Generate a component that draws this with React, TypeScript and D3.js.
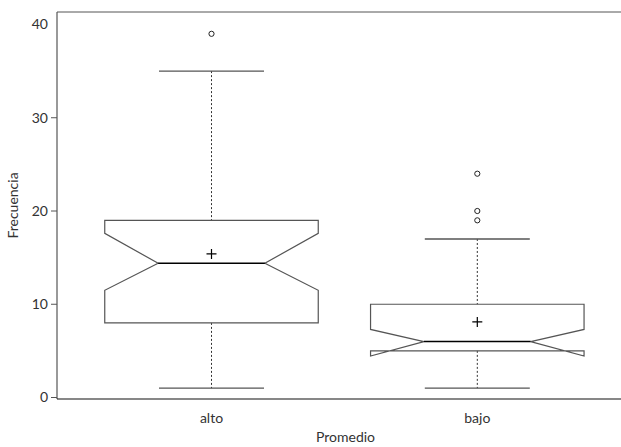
import React from "react";
import * as d3 from "d3";

const categories = ["alto", "bajo"];
const q1 = [8, 5];
const median = [14.4, 6];
const q3 = [19, 10];
const notchLo = [11.5, 4.45];
const notchHi = [17.6, 7.3];
const whiskerLo = [1, 1];
const whiskerHi = [35, 17];
const means = [15.4, 8.1];
const outliers = [[39], [24, 20, 19]];
const yTicks = [0, 10, 20, 30, 40];

const W = 621, H = 447;
const left = 57, top = 12, bottom = 399;
const FONT = "Lato, 'Open Sans', sans-serif";

export default function App() {
  const y = d3.scaleLinear().domain([-0.16, 41.34]).range([bottom, top]);
  const x = d3.scalePoint<string>().domain(categories).range([211.5, 477.3]);
  const boxW = 213.5;
  const capW = 105;
  const lineGray = "#555";

  return (
    <svg width={W} height={H} style={{ position: "absolute", left: 0, top: 0 }}>
      <rect width={W} height={H} fill="#fff" />
      <line x1={left} x2={W} y1={top} y2={top} stroke={lineGray} strokeWidth={1} />
      <line x1={left} x2={left} y1={top} y2={bottom} stroke={lineGray} strokeWidth={1.2} />
      <line x1={left} x2={W} y1={bottom} y2={bottom} stroke="#111" strokeWidth={1.2} />
      {yTicks.map((t) => (
        <g key={t}>
          {t !== 40 && (
            <line x1={51} x2={left} y1={y(t)} y2={y(t)} stroke={lineGray} />
          )}
          <text x={48} y={y(t)} dy="0.35em" textAnchor="end" fontFamily={FONT} fontSize={14} fill="#333">
            {t}
          </text>
        </g>
      ))}
      <text transform={`translate(18,${(top + bottom) / 2}) rotate(-90)`} textAnchor="middle" fontFamily={FONT} fontSize={14} fill="#333">
        Frecuencia
      </text>
      {categories.map((c, i) => {
        const cx = x(c)!;
        const L = cx - boxW / 2, R = cx + boxW / 2;
        const inset = boxW / 4;
        const pts: [number, number][] = [
          [L, y(q3[i])], [R, y(q3[i])], [R, y(notchHi[i])], [R - inset, y(median[i])],
          [R, y(notchLo[i])], [R, y(q1[i])], [L, y(q1[i])], [L, y(notchLo[i])],
          [L + inset, y(median[i])], [L, y(notchHi[i])],
        ];
        const path = d3.line()(pts) + "Z";
        return (
          <g key={c}>
            <line x1={cx} x2={cx} y1={y(whiskerHi[i])} y2={y(q3[i])} stroke="#333" strokeDasharray="2,2" />
            <line x1={cx} x2={cx} y1={y(q1[i])} y2={y(whiskerLo[i])} stroke="#333" strokeDasharray="2,2" />
            <line x1={cx - capW / 2} x2={cx + capW / 2} y1={y(whiskerHi[i])} y2={y(whiskerHi[i])} stroke={lineGray} strokeWidth={1.3} />
            <line x1={cx - capW / 2} x2={cx + capW / 2} y1={y(whiskerLo[i])} y2={y(whiskerLo[i])} stroke={lineGray} strokeWidth={1.3} />
            <path d={path} fill="none" stroke={lineGray} strokeWidth={1.2} />
            <line x1={L + inset} x2={R - inset} y1={y(median[i])} y2={y(median[i])} stroke="#000" strokeWidth={1.5} />
            <path d={`M${cx - 5},${y(means[i])}H${cx + 5}M${cx},${y(means[i]) - 5}V${y(means[i]) + 5}`} stroke="#000" strokeWidth={1.2} fill="none" />
            {outliers[i].map((o, j) => (
              <circle key={j} cx={cx} cy={y(o)} r={2.6} fill="none" stroke="#222" strokeWidth={1} />
            ))}
            <text x={cx} y={418} dy="0.35em" textAnchor="middle" fontFamily={FONT} fontSize={14} fill="#333">
              {c}
            </text>
          </g>
        );
      })}
      <text x={345.5} y={437} dy="0.35em" textAnchor="middle" fontFamily={FONT} fontSize={14} fill="#333">
        Promedio
      </text>
    </svg>
  );
}
